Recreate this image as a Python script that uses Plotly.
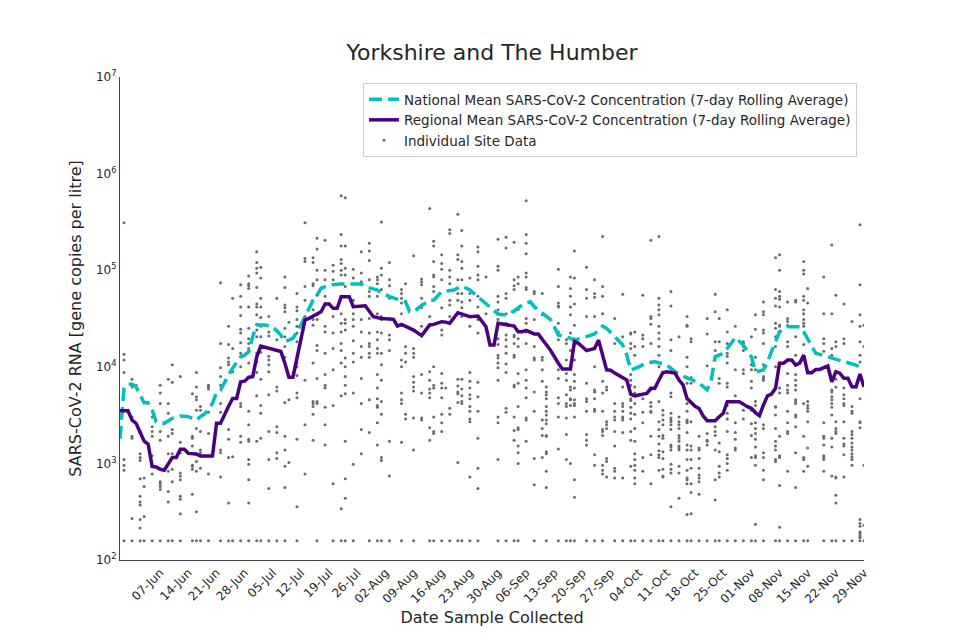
import pandas as pd
import plotly.graph_objects as go

# all series are indexed by days since the first sample date
start = pd.Timestamp("2020-05-28")
end_day = 185

national_days = [0, 1, 2, 3, 4, 5, 6, 7, 8, 9, 11, 13, 15, 17, 19, 20, 21, 22, 23, 24,
                 25, 27, 28, 30, 31, 32, 33, 34, 36, 38, 40, 41, 43, 45, 46, 48, 49, 50, 52, 55,
                 60, 61, 64, 65, 67, 69, 71, 72, 73, 75, 77, 78, 80, 83, 85, 87, 89, 91, 94, 96,
                 98, 100, 102, 103, 105, 107, 108, 109, 111, 113, 116, 118, 120, 121, 123, 125, 126, 127, 129, 131,
                 133, 136, 138, 140, 142, 144, 146, 147, 148, 150, 152, 153, 155, 157, 158, 160, 161, 163, 164, 166,
                 169, 170, 172, 173, 176, 178, 181, 183, 185]
national_values = [1800, 6000, 6600, 6600, 6200, 5100, 4250, 4250, 3570, 2700,
                   2600, 2930, 3100, 3050, 2800, 3050, 3240, 3570, 4190, 5400,
                   5760, 8220, 9640, 12700, 13200, 14300, 20500, 27100, 27100, 26000,
                   21300, 18200, 19700, 27100, 33000, 49000, 55300, 65000, 70300, 72000,
                   72000, 67500, 62400, 58500, 53200, 50300, 47200, 37200, 37200, 43000,
                   49000, 49000, 60000, 62400, 68500, 62400, 53200, 45400, 35200, 34400,
                   37800, 43700, 47200, 41900, 35800, 31000, 26000, 21300, 20500, 18900,
                   20500, 21900, 26400, 25000, 20500, 16800, 13200, 9270, 10000, 11000,
                   11300, 10400, 8900, 8000, 7400, 6770, 5760, 7300, 12700, 13800,
                   17500, 20200, 16800, 12700, 8900, 9270, 11300, 18200, 23100, 26000,
                   26000, 23100, 16100, 13800, 12700, 12000, 10900, 10400, 9600]

regional_days = [0, 2, 3, 4, 6, 7, 8, 9, 10, 11, 13, 14, 15, 16, 17, 19, 20, 23, 24, 25,
                 27, 28, 29, 30, 31, 32, 33, 34, 35, 36, 37, 38, 39, 40, 41, 42, 43, 44, 45, 46,
                 47, 49, 50, 51, 52, 53, 54, 55, 57, 58, 61, 63, 65, 68, 69, 70, 73, 75, 77, 78,
                 80, 81, 82, 84, 85, 87, 89, 91, 92, 93, 94, 97, 98, 99, 100, 101, 103, 104, 106, 107,
                 109, 110, 112, 113, 114, 116, 118, 119, 121, 122, 123, 125, 126, 127, 128, 129, 131, 132, 133, 134,
                 135, 136, 138, 139, 140, 141, 143, 144, 145, 146, 148, 149, 150, 151, 154, 156, 157, 158, 159, 160,
                 161, 162, 163, 164, 165, 166, 167, 168, 169, 170, 171, 172, 173, 174, 176, 177, 178, 179, 180, 181,
                 182, 183, 184, 185]
regional_values = [3500, 3500, 2800, 2600, 1700, 1580, 930, 920, 870, 850,
                   1150, 1150, 1400, 1400, 1270, 1250, 1190, 1190, 2600, 2600,
                   3900, 4700, 4700, 7000, 7100, 7800, 7900, 12700, 16400, 16000,
                   15600, 15000, 14700, 14400, 10900, 7800, 7800, 12700, 18900, 30500,
                   31700, 35800, 37200, 44700, 44700, 40300, 40300, 53200, 53200, 41900,
                   42900, 33000, 31700, 31000, 26400, 27500, 24000, 21000, 27100, 27500,
                   29300, 29000, 28200, 36300, 35200, 33000, 33600, 26000, 16800, 16800,
                   28200, 27100, 26400, 23100, 23100, 23800, 21900, 21900, 16800, 14900,
                   10900, 9500, 9500, 18200, 17500, 14700, 15500, 18900, 9300, 9200,
                   8600, 7600, 7300, 5200, 5000, 5100, 5300, 6000, 6000, 7300,
                   8700, 8900, 8600, 7300, 6500, 4700, 3900, 3700, 3100, 2770,
                   2770, 3040, 3300, 4360, 4360, 3870, 3720, 3350, 3120, 4030,
                   5000, 5220, 5990, 10900, 10900, 11750, 11750, 10400, 10900, 13200,
                   8700, 8700, 9400, 9400, 10200, 7000, 8900, 8600, 7600, 7600,
                   6220, 6200, 8400, 6200]

# individual sites, read as log10(gene copies per litre); 2.2 is the non-detect floor
site_days = [1, 3, 4, 5, 6, 8, 10, 12, 13, 15, 18, 19, 20, 22, 25, 27, 28, 30, 32, 34,
             35, 37, 39, 41, 42, 44, 46, 48, 49, 51, 53, 55, 56, 58, 60, 62, 64, 65, 67, 70,
             71, 73, 75, 77, 78, 80, 81, 82, 84, 85, 87, 89, 91, 94, 96, 98, 99, 101, 103, 105,
             106, 109, 111, 112, 113, 116, 118, 120, 121, 123, 125, 127, 128, 130, 132, 134, 135, 137, 139, 141,
             142, 144, 146, 148, 149, 151, 153, 155, 157, 158, 160, 163, 164, 166, 168, 170, 171, 175, 177, 178,
             180, 182, 184, 185]
site_log10 = [
    [5.49, 4.13, 4.07, 3.94, 3.04, 2.98, 2.93, 2.2],
    [3.87, 3.79, 3.48, 3.28, 3.26, 2.43, 2.2],
    [3.81],
    [3.10, 3.06, 3.03, 2.84, 2.66, 2.60, 2.57, 2.42, 2.33, 2.2],
    [2.85, 2.76, 2.45, 2.2],
    [3.48, 3.38, 3.33, 3.28, 3.08, 2.97, 2.89, 2.2],
    [3.81, 3.73, 3.62, 3.33, 3.24, 2.81, 2.79, 2.76, 2.73, 2.2],
    [3.87, 3.62, 3.52, 3.28, 3.10, 2.92, 2.71, 2.60, 2.2],
    [4.02, 3.84, 3.35, 3.31, 3.10, 2.94, 2.81, 2.2],
    [3.90, 3.22, 3.11, 2.90, 2.87, 2.83, 2.66, 2.63, 2.48, 2.2],
    [3.72, 3.28, 3.26, 3.18, 2.98, 2.97, 2.94, 2.68, 2.2],
    [3.94, 3.79, 3.69, 3.66, 3.55, 3.36, 3.09, 3.02, 2.92, 2.50, 2.2],
    [3.59, 3.55, 3.33, 3.14, 3.11, 2.95, 2.2],
    [3.81, 3.79, 3.77, 3.53, 3.31, 2.89, 2.2],
    [4.87, 4.24, 3.99, 3.90, 3.81, 3.62, 3.53, 3.42, 3.14, 3.11, 2.86, 2.2],
    [4.42, 4.23, 4.09, 4.05, 4.02, 3.35, 3.25, 3.06, 2.59, 2.2],
    [4.71, 4.19, 3.95, 3.07, 2.2],
    [4.85, 4.73, 4.62, 4.53, 4.39, 4.35, 4.25, 4.14, 4.00, 3.62, 3.59, 3.28, 3.22, 2.2],
    [4.94, 4.86, 4.84, 4.81, 4.62, 4.40, 4.29, 4.24, 4.19, 4.04, 3.54, 3.40, 3.25, 3.23, 3.04, 2.99, 2.83, 2.59, 2.2],
    [5.19, 5.08, 5.02, 4.97, 4.82, 4.65, 4.62, 4.54, 4.44, 4.38, 4.31, 4.14, 4.05, 3.94, 3.70, 3.23, 2.2],
    [5.03, 4.92, 4.71, 4.62, 4.51, 4.42, 4.31, 4.21, 4.15, 3.87, 3.60, 3.52, 3.26, 2.2],
    [4.52, 4.36, 4.32, 4.11, 4.07, 4.02, 3.95, 3.71, 3.33, 3.04, 2.74, 2.2],
    [4.71, 4.28, 3.79, 3.75, 3.38, 3.32, 3.11, 3.05, 2.2],
    [4.93, 4.82, 4.64, 4.61, 4.57, 4.40, 4.31, 4.21, 4.10, 3.63, 3.28, 3.14, 2.97, 2.75, 2.2],
    [4.46, 3.66, 3.01],
    [4.76, 4.62, 4.58, 4.49, 4.42, 4.35, 4.26, 4.04, 4.00, 3.91, 3.73, 3.68, 3.25, 2.55, 2.2],
    [5.49, 5.12, 5.09, 4.83, 4.69, 4.52, 3.86, 3.40, 2.89],
    [5.13, 5.08, 4.86, 4.84, 4.59, 4.49, 4.43, 4.04, 3.64, 3.62, 3.59, 3.51, 3.24],
    [5.33, 5.22, 5.00, 4.90, 4.74, 4.54, 4.49, 4.22, 4.17, 3.88, 3.64, 3.62, 2.2],
    [5.31, 5.00, 4.90, 4.73, 4.42, 4.36, 4.14, 3.92, 3.81, 3.78, 3.58, 3.40, 3.19],
    [5.05, 4.99, 4.90, 4.52, 4.35, 4.19, 3.97, 3.60, 2.79, 2.2],
    [5.77, 5.37, 5.25, 5.11, 5.07, 5.00, 4.95, 4.86, 4.55, 4.45, 4.36, 4.24, 4.17, 4.04, 3.70, 2.53, 2.2],
    [5.75, 5.25, 5.02, 4.95, 4.83, 4.49, 4.45, 4.38, 4.09, 4.00, 3.90, 3.81, 3.72, 3.23, 2.84, 2.64, 2.2],
    [5.01, 4.92, 4.69, 4.55, 4.49, 4.42, 4.27, 4.14, 4.05, 3.73, 2.99, 2.2],
    [5.19, 4.97, 4.88, 4.49, 4.36, 4.21, 4.10, 3.88, 3.62, 3.35, 3.10],
    [5.28, 5.20, 5.10, 4.90, 4.78, 4.73, 4.50, 4.35, 4.24, 4.21, 4.14, 4.10, 3.66, 3.32, 2.2],
    [4.93, 4.90, 4.86, 4.73, 4.55, 4.36, 4.28, 4.19, 4.14, 3.92, 3.78, 3.67, 3.60, 3.58, 3.42, 3.19, 2.2],
    [5.50, 5.02, 4.95, 4.80, 4.52, 4.49, 4.35, 4.14, 4.02, 3.86, 3.64, 3.51, 3.06, 3.03, 2.2],
    [5.08, 4.90, 4.84, 4.71, 4.50, 4.33, 4.28, 4.17, 3.23, 2.87, 2.2],
    [4.80, 4.76, 4.71, 4.66, 4.55, 4.43, 4.07, 4.00, 3.73, 3.66, 3.62, 3.22, 2.2],
    [4.86, 4.67, 4.42, 4.21, 4.14, 4.05, 3.51, 3.46],
    [5.15, 4.19, 4.14, 4.10, 3.90, 3.84, 3.79, 3.75, 3.47, 3.14, 2.2],
    [4.91, 4.88, 4.85, 4.71, 4.64, 4.61, 4.42, 3.92, 3.73, 3.47, 3.45],
    [5.64, 4.52, 3.95, 3.86, 3.77, 3.73, 3.68, 3.37, 3.24, 2.2],
    [5.30, 5.25, 5.09, 4.95, 4.93, 4.83, 4.78, 4.00, 3.81, 3.78, 3.48, 3.33, 3.31, 2.2],
    [5.16, 5.07, 5.01, 4.90, 4.61, 4.38, 4.33, 3.93, 3.83, 3.78, 3.68, 3.51, 3.42, 3.33, 2.2],
    [3.78],
    [5.42, 5.38, 5.00, 4.93, 4.86, 4.69, 4.64, 4.52, 3.57, 3.51, 2.2],
    [5.58, 5.16, 5.11, 4.90, 4.76, 4.69, 4.55, 3.87, 3.80, 3.74, 3.72, 3.63, 3.01, 2.2],
    [5.41, 5.25, 5.09, 5.02, 4.90, 4.76, 4.67, 4.61, 4.52, 3.87, 3.77, 3.70, 3.64, 3.62, 2.2],
    [4.92, 4.76, 4.69, 4.52, 4.42, 3.94, 3.85, 3.78, 3.71, 3.67, 3.59, 3.54, 3.46, 3.43, 2.86, 2.2],
    [5.24, 5.19, 5.04, 4.95, 4.90, 4.73, 4.62, 4.49, 4.35, 3.84, 3.69, 3.54, 3.26, 2.95, 2.74, 2.2],
    [4.93, 4.55],
    [5.32, 5.04, 5.00, 4.73, 4.67, 4.59, 4.49, 4.29, 4.23, 4.12, 4.09, 4.04, 3.99, 3.86, 3.48, 3.42, 3.04, 2.2],
    [5.34, 5.23, 4.76, 4.71, 4.55, 4.45, 4.33, 4.28, 4.21, 4.14, 4.03, 3.94, 3.57, 3.53, 2.2],
    [5.29, 4.90, 4.84, 4.80, 4.57, 4.42, 4.33, 4.31, 4.24, 4.12, 4.10, 3.81, 3.79, 3.48, 3.34, 3.24, 2.2],
    [4.93, 4.86, 4.59, 4.29, 4.21, 3.93, 3.83, 3.59, 3.37, 3.35, 3.18, 3.11, 3.00, 2.2],
    [5.72, 5.37, 5.28, 5.17, 4.97, 4.93, 4.82, 4.80, 4.50, 4.45, 4.36, 4.24, 3.97, 3.86, 3.78, 3.68, 3.47, 3.45, 3.23],
    [4.78, 4.76, 4.49, 4.21, 4.09, 4.07, 3.74, 3.54, 3.05, 2.78, 2.2],
    [4.76, 4.54, 4.10, 4.07, 3.97, 3.85, 3.45, 3.36, 3.29, 3.06],
    [3.79, 3.74, 3.71, 3.67, 3.59, 3.54, 3.50, 3.45, 3.41, 3.29, 3.28, 3.12, 3.10, 2.92, 2.75, 2.2],
    [5.01, 4.83, 4.66, 4.63, 4.62, 4.45, 4.36, 4.28, 3.97, 3.88, 3.68, 3.62, 3.48, 3.15, 2.2],
    [4.28, 4.24, 4.07, 3.93, 3.86, 3.71, 3.62, 3.59, 3.47, 3.30, 3.04, 2.2],
    [4.93, 4.81, 4.73, 4.62, 4.54, 4.35, 4.17, 4.00, 3.79, 3.76, 3.67, 3.66, 3.60, 3.00, 2.2],
    [5.20, 4.92, 4.65, 4.43, 4.29, 4.07, 3.92, 3.85, 3.78, 3.66, 3.62, 3.60, 3.48, 2.83, 2.65, 2.2],
    [5.03, 4.80, 4.71, 4.52, 3.83, 3.67, 3.64, 3.54, 3.30, 3.24, 3.19, 2.2],
    [4.90, 4.76, 4.72, 4.52, 4.00, 3.76, 3.74, 3.67, 3.56, 3.54, 3.09, 2.98, 2.2],
    [5.35, 4.83, 4.73, 4.55, 3.85, 3.73, 3.54, 3.35, 3.33, 3.29, 2.98, 2.93, 2.89, 2.2],
    [3.79, 3.76, 3.43, 3.40, 3.36, 3.05, 3.02, 2.86],
    [4.50, 4.24, 3.62, 3.54, 3.48, 3.45, 3.33, 3.18, 2.95, 2.92, 2.85, 2.2],
    [4.75, 4.31, 3.79, 3.62, 3.59, 3.54, 3.48, 3.47, 3.45, 3.32, 2.85, 2.2],
    [4.35, 4.34, 4.24, 4.19, 3.92, 3.86, 3.81, 3.67, 3.65, 3.58, 3.52, 3.46, 3.33, 3.24, 2.97, 2.2],
    [4.36, 4.21, 4.12, 3.79, 3.73, 3.62, 3.51, 3.36, 3.23, 3.10, 3.04, 2.98, 2.93, 2.85, 2.79, 2.2],
    [4.74, 4.33, 4.29, 4.21, 3.67, 3.53, 3.42, 3.06, 2.92, 2.2],
    [5.31, 4.52, 4.50, 4.44, 4.24, 3.76, 3.63, 3.59, 3.54, 3.53, 3.28, 3.09, 2.79, 2.2],
    [5.35, 4.71, 4.64, 4.59, 4.54, 4.42, 4.35, 4.29, 4.21, 4.12, 4.00, 3.64, 3.43, 3.35, 3.28, 3.20, 3.13, 3.09, 3.06, 2.93, 2.2],
    [3.55, 3.50, 3.45, 3.40, 3.29, 3.26, 3.12, 3.05, 2.94, 2.87, 2.86, 2.2],
    [4.78, 4.63, 4.28, 4.17, 3.73, 3.69, 3.52, 3.47, 3.45, 3.43, 3.40, 3.35, 3.19, 3.17, 3.14, 2.99, 2.94, 2.90, 2.55, 2.2],
    [4.31, 3.48, 3.43, 3.40, 3.36, 3.29, 3.26, 3.23, 3.18, 3.16, 3.14, 2.97, 2.90, 2.64, 2.2],
    [4.52, 4.43, 4.42, 4.10, 4.00, 3.83, 3.62, 3.54, 3.45, 3.43, 3.42, 3.32, 3.19, 3.14, 3.04, 2.93, 2.85, 2.83, 2.79, 2.47, 2.2],
    [4.29, 4.26, 3.89, 3.83, 3.43, 3.18, 3.14, 3.04, 2.95, 2.79, 2.70, 2.48, 2.2],
    [3.28, 3.16, 3.14, 3.05, 2.95, 2.88, 2.85, 2.81, 2.68, 2.2],
    [4.50, 4.34, 4.01, 3.31, 3.24, 3.23, 3.19, 2.2],
    [4.75, 4.57, 4.26, 4.17, 4.10, 3.38, 3.33, 3.29, 3.14, 2.83, 2.62, 2.2],
    [4.50, 4.26, 3.88, 3.83, 3.21, 3.12, 2.97, 2.90, 2.86, 2.2],
    [4.59, 4.36, 4.24, 4.14, 4.11, 4.04, 3.83, 3.79, 3.60, 3.52, 3.46, 3.33, 3.09, 3.05, 3.00, 2.93, 2.2],
    [4.42, 3.97, 3.70, 3.42, 3.32, 3.25, 3.16, 3.14, 2.2],
    [4.26, 4.24, 4.21, 4.17, 3.97, 3.93, 3.55, 3.46, 2.2],
    [4.31, 4.02, 3.97, 3.85, 3.78, 3.55, 3.41, 3.29, 3.06, 2.2],
    [4.54, 4.39, 4.10, 3.97, 3.64, 3.60, 3.42, 3.36, 3.31, 3.25, 3.17, 3.08, 3.06, 2.98, 2.37, 2.2],
    [4.67, 4.57, 4.54, 4.38, 4.35, 4.24, 4.02, 3.90, 3.88, 3.86, 3.40, 3.36, 3.11, 3.06, 2.93, 2.83, 2.2],
    [5.13, 4.80, 4.71, 4.63, 4.45, 4.40, 4.31, 4.21, 4.00, 3.59, 3.58, 3.50, 3.36, 3.23, 3.18, 3.14, 3.04, 3.02, 2.2],
    [5.16, 5.00, 4.78, 4.73, 4.70, 4.62, 4.43, 4.42, 3.78, 3.73, 3.28, 3.08, 3.06, 2.77, 2.34, 2.2],
    [4.67, 4.50, 4.47, 4.43, 4.26, 4.21, 3.93, 3.81, 3.76, 3.73, 3.54, 3.42, 3.33, 3.31, 2.92, 2.2],
    [4.69, 4.67, 4.31, 4.12, 3.92, 3.86, 3.81, 3.76, 3.66, 3.64, 3.62, 3.50, 3.48, 3.38, 3.11, 2.75, 2.2],
    [5.09, 5.00, 4.96, 4.73, 4.69, 4.59, 4.55, 4.49, 4.45, 4.42, 4.23, 3.62, 3.28, 3.06, 3.04, 2.92, 2.2],
    [4.81, 4.66, 3.64, 3.60, 3.57, 3.54, 3.43, 3.16, 2.97, 2.2],
    [4.93, 4.55, 4.29, 4.24, 4.16, 3.42, 3.28, 3.26, 3.19, 3.08, 3.06, 3.04, 2.92, 2.2],
    [5.26, 4.55, 4.19, 4.12, 3.76, 3.74, 3.69, 3.66, 3.62, 3.58, 3.50, 3.26, 3.17, 2.87, 2.2],
    [4.74, 4.26, 4.21, 3.87, 3.79, 3.43, 3.36, 3.33, 3.31, 2.86, 2.85, 2.67, 2.59, 2.2],
    [4.65, 4.29, 4.24, 3.78, 3.71, 3.67, 3.62, 3.60, 3.43, 3.26, 3.20, 3.18, 3.09, 2.86, 2.2],
    [4.47, 3.59, 3.54, 3.52, 3.33, 3.30, 3.26, 3.21, 3.17, 3.14, 3.10, 3.07, 3.04, 2.98, 2.2],
    [5.47, 4.85, 4.54, 4.42, 4.26, 4.12, 4.05, 3.67, 3.43, 3.42, 3.37, 2.42, 2.38, 2.35, 2.29, 2.28, 2.26, 2.24, 2.23, 2.2],
    [4.43, 4.21, 2.98, 2.36, 2.2],
]
assert len(site_days) == len(site_log10)

x_ticks = pd.date_range("2020-06-07", "2020-11-29", freq="7D")
y_ticks = [1e2, 1e3, 1e4, 1e5, 1e6, 1e7]
y_ticktext = ['10<sup>2</sup>', '10<sup>3</sup>', '10<sup>4</sup>',
              '10<sup>5</sup>', '10<sup>6</sup>', '10<sup>7</sup>']


def to_dates(days):
    return [start + pd.Timedelta(days=d) for d in days]


site_x = []
site_y = []
for day, logs in zip(site_days, site_log10):
    for v in logs:
        site_x.append(start + pd.Timedelta(days=day))
        site_y.append(10 ** v)

fig = go.Figure()
fig.add_trace(go.Scatter(x=site_x, y=site_y, mode='markers',
                         name='Individual Site Data', legendrank=3,
                         marker=dict(size=3, color='#6b6b6b', symbol='circle')))
fig.add_trace(go.Scatter(x=to_dates(national_days), y=national_values, mode='lines',
                         name='National Mean SARS-CoV-2 Concentration (7-day Rolling Average)',
                         legendrank=1,
                         line=dict(color='#00bfbf', width=3.5, dash='13px,6px')))
fig.add_trace(go.Scatter(x=to_dates(regional_days), y=regional_values, mode='lines',
                         name='Regional Mean SARS-CoV-2 Concentration (7-day Rolling Average)',
                         legendrank=2,
                         line=dict(color='#4b0082', width=3.5)))

# the page body adds an 8px offset, so the figure is drawn 8px smaller
fig.update_layout(
    width=952, height=632,
    margin=dict(l=112, r=96, t=69, b=80),
    paper_bgcolor='white', plot_bgcolor='white',
    font=dict(family='DejaVu Sans', color='#262626'),
    title=dict(text='Yorkshire and The Humber', x=0.5084, xanchor='center',
               y=0.930, yanchor='middle', font=dict(size=22)),
    legend=dict(x=0.9906, xanchor='right', y=0.9876, yanchor='top',
                bgcolor='white', bordercolor='#cccccc', borderwidth=1,
                font=dict(size=13.5), tracegroupgap=0),
)
fig.update_xaxes(type='date', range=[start, start + pd.Timedelta(days=end_day)],
                 tickvals=x_ticks, tickformat='%d-%b',
                 tickangle=-45, tickfont=dict(size=12), ticks='',
                 showline=True, linecolor='#444444', linewidth=1,
                 showgrid=False, zeroline=False,
                 title=dict(text='Date Sample Collected', font=dict(size=16), standoff=6))
fig.update_yaxes(type='log', range=[2, 7], tickvals=y_ticks, ticktext=y_ticktext,
                 tickfont=dict(size=12), ticks='',
                 showline=True, linecolor='#444444', linewidth=1,
                 showgrid=False, zeroline=False,
                 title=dict(text='SARS-CoV-2 RNA [gene copies per litre]',
                            font=dict(size=16), standoff=10))

fig.write_html("out.html")
